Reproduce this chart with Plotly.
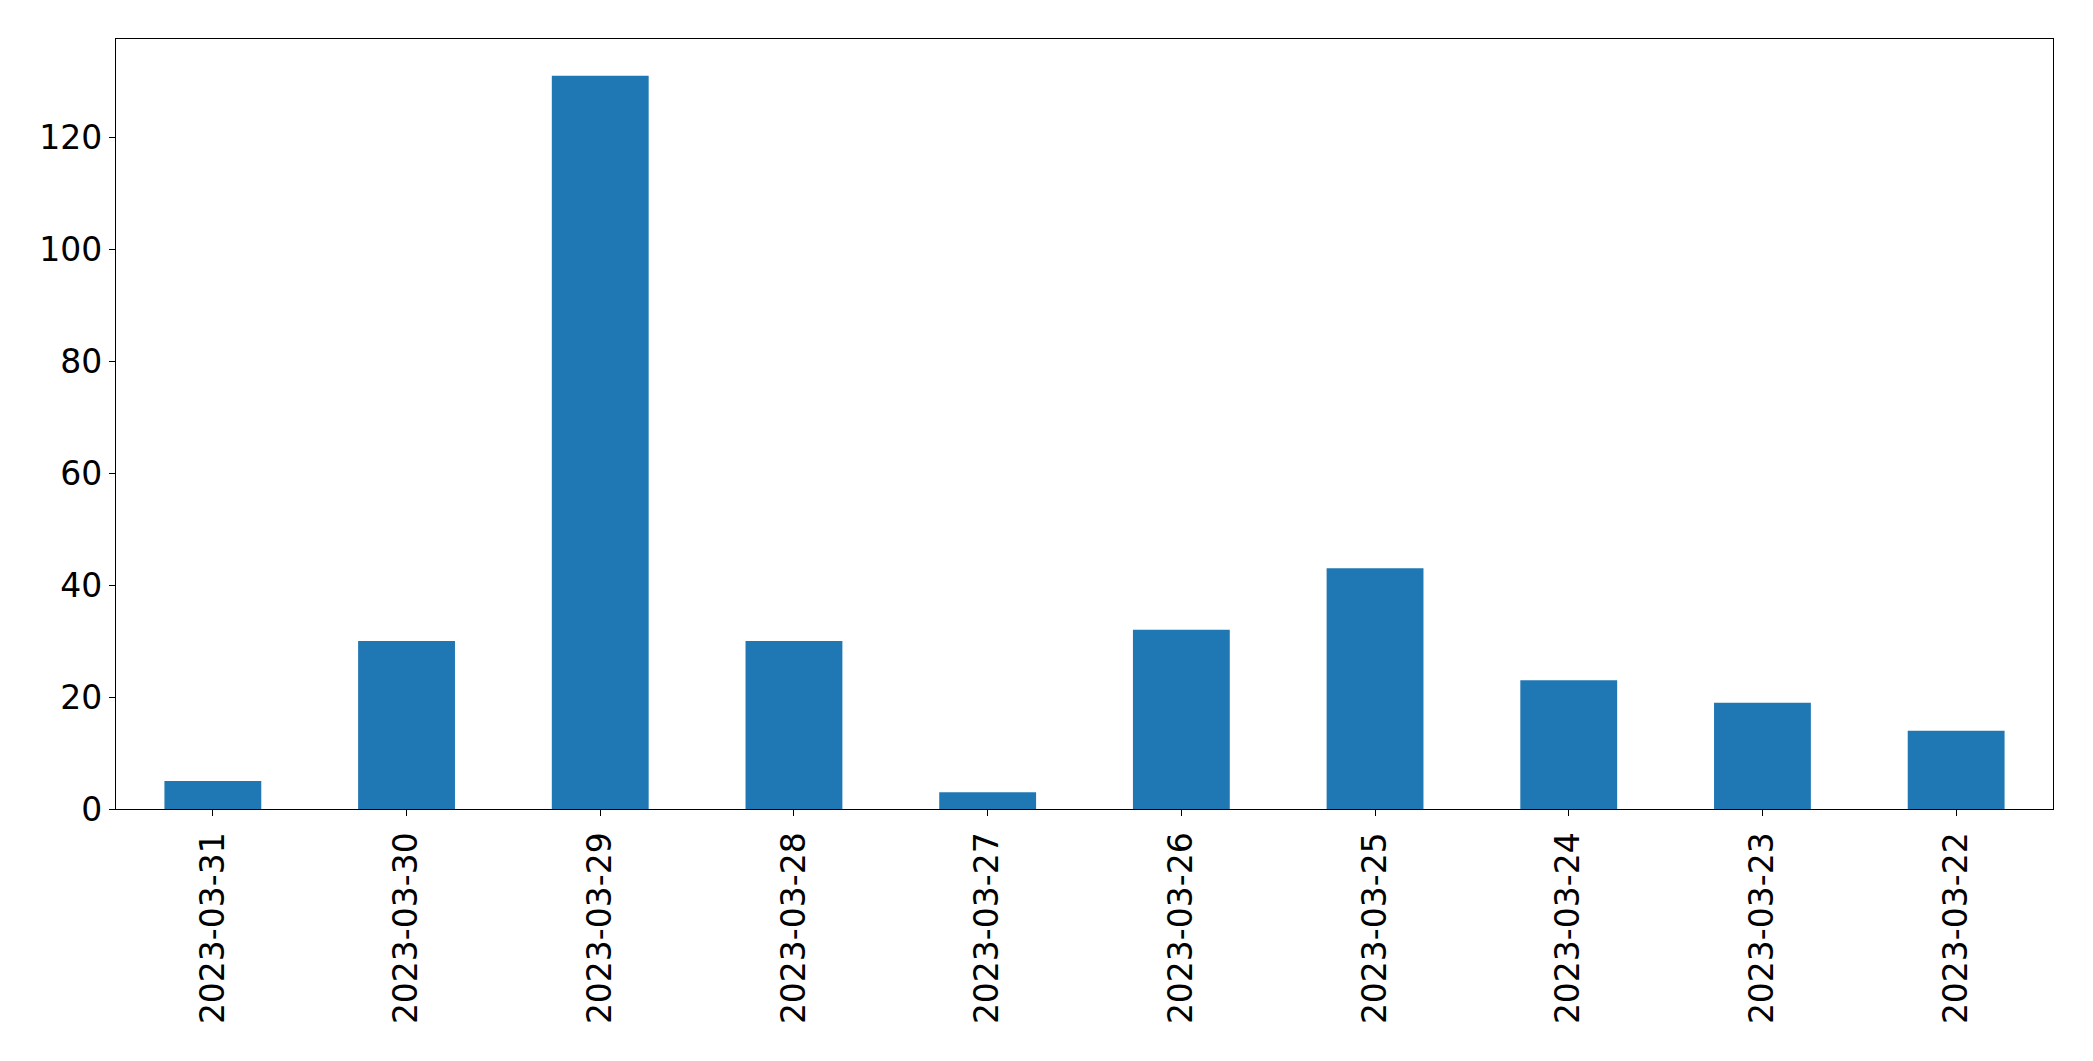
import plotly.graph_objects as go

dates = ["2023-03-31", "2023-03-30", "2023-03-29", "2023-03-28", "2023-03-27",
         "2023-03-26", "2023-03-25", "2023-03-24", "2023-03-23", "2023-03-22"]
counts = [5, 30, 131, 30, 3, 32, 43, 23, 19, 14]
y_ticks = [0, 20, 40, 60, 80, 100, 120]

fig = go.Figure(go.Bar(x=dates, y=counts, marker=dict(color="#1f77b4", line=dict(width=0)),
                       width=0.5))

font = dict(family="DejaVu Sans", size=33, color="black")
fig.update_layout(
    width=2093, height=1061,
    margin=dict(l=108, r=48, t=31, b=260),
    paper_bgcolor="white", plot_bgcolor="white",
    showlegend=False,
    font=font,
)
fig.update_xaxes(
    type="category", range=[-0.5, len(dates) - 0.5],
    tickangle=-90, ticks="outside", ticklen=6, tickwidth=1.3, tickcolor="black",
    showline=True, linecolor="black", linewidth=1.3, mirror=True,
    showgrid=False, zeroline=False, tickfont=font, ticklabelstandoff=3,
)
fig.update_yaxes(
    range=[0, max(counts) * 1.05], tickvals=y_ticks,
    ticks="outside", ticklen=6, tickwidth=1.3, tickcolor="black",
    showline=True, linecolor="black", linewidth=1.3, mirror=True,
    showgrid=False, zeroline=False, tickfont=font, ticklabelstandoff=0,
)
fig.write_html("out.html")
